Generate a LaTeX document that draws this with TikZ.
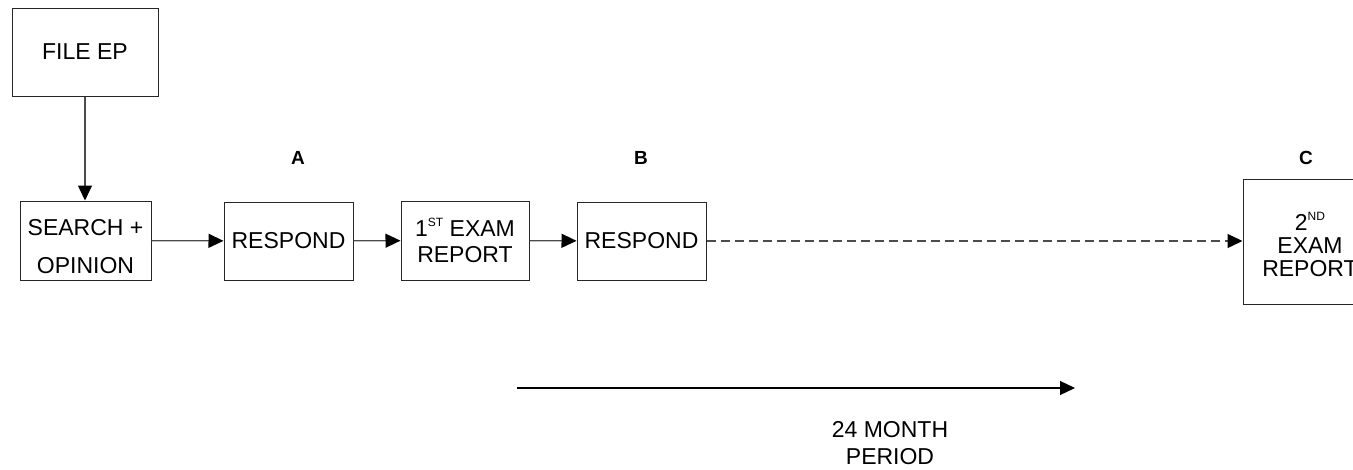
\documentclass[tikz,border=0pt]{standalone}
\usepackage{fontspec}
\setmainfont{Liberation Sans}
\usetikzlibrary{arrows.meta}
% small raised ordinal suffix (ST, ND)
\newcommand{\ordsuf}[1]{\raisebox{10pt}{\fontsize{12}{12}\selectfont #1}}

\begin{document}
\begin{tikzpicture}[x=1pt,y=-1pt,
  box/.style={draw=black!85, line width=1pt, inner sep=0pt, align=center,
              font=\fontsize{23}{26}\selectfont},
  link/.style={draw=black!70, line width=1.3pt,
               -{Triangle[length=15pt,width=14pt,color=black]}},
  tag/.style={font=\fontsize{19}{21}\selectfont\bfseries},
  caption/.style={align=center, font=\fontsize{23}{27}\selectfont}]

\useasboundingbox (0,0) rectangle (1353,469);
\clip (0,0) rectangle (1353,469);

% process boxes
\node[box, minimum width=146pt, minimum height=88pt] (file) at (85,52) {FILE EP};
\node[box, minimum width=131pt, minimum height=79pt,
      font=\fontsize{23}{38}\selectfont] (search) at (85.5,240.5)
      {\rule{0pt}{29pt}SEARCH +\\OPINION};
\node[box, minimum width=129pt, minimum height=78pt] (respA) at (288.5,241) {RESPOND};
\node[box, minimum width=128pt, minimum height=79pt] (exam1) at (465,240.5)
      {1\ordsuf{ST} EXAM\\REPORT};
\node[box, minimum width=129pt, minimum height=78pt] (respB) at (641.5,241) {RESPOND};
\node[box, minimum width=134pt, minimum height=125pt,
      font=\fontsize{23}{23}\selectfont] (exam2) at (1310,241.5)
      {\rule{0pt}{25pt}2\ordsuf{ND}\\EXAM\\REPORT};

% stage letters
\node[tag] (la) at (298,158) {A};
\node[tag] (lb) at (641,158) {B};
\node[tag] (lc) at (1306,158) {C};

% flow
\draw[link] (file) -- (file |- search.north);
\draw[link] (search) -- (respA);
\draw[link] (respA) -- (exam1);
\draw[link] (exam1) -- (respB);
\draw[link, dash pattern=on 9pt off 5pt] (respB.east) -- (respB.east -| exam2.west);

% time span
\coordinate (ps) at (517,388);
\coordinate (pe) at (1075,388);
\draw[link, draw=black, line width=1.2pt] (ps) -- (pe);
\node[caption] (period) at (890,443) {24 MONTH\\PERIOD};

\end{tikzpicture}
\end{document}
